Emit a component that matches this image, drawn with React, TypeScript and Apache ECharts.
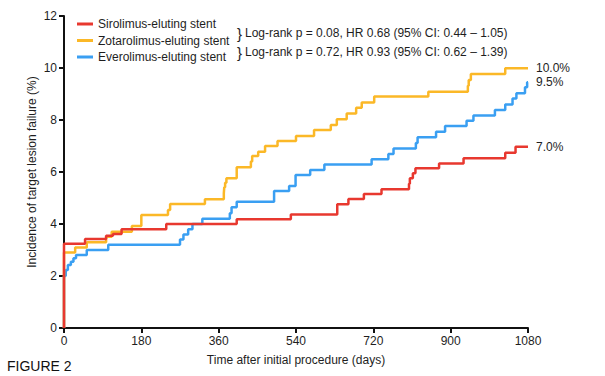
import React, { useEffect, useRef } from "react";
import * as echarts from "echarts";

const seriesNames = ["Sirolimus-eluting stent", "Zotarolimus-eluting stent", "Everolimus-eluting stent"];
const seriesColors = ["#e8382f", "#fbb827", "#3a9ff2"];
const endLabels = ["7.0%", "10.0%", "9.5%"];

const siroDays = [0, 0, 49, 98, 114, 134, 238, 402, 528, 636, 662, 698, 739, 803, 805, 812, 818, 873, 930, 1027, 1051, 1080];
const siroVals = [0, 3.24, 3.42, 3.55, 3.62, 3.8, 4.0, 4.18, 4.37, 4.76, 4.96, 5.15, 5.34, 5.55, 5.76, 5.95, 6.14, 6.33, 6.53, 6.74, 6.97, 6.97];

const zotaDays = [0, 0, 26, 53, 98, 111, 158, 180, 242, 247, 328, 372, 373, 375, 378, 402, 435, 438, 452, 468, 497, 540, 582, 621, 635, 658, 680, 693, 722, 848, 940, 942, 947, 1027, 1080];
const zotaVals = [0, 2.9, 3.1, 3.3, 3.51, 3.7, 3.92, 4.35, 4.54, 4.77, 4.95, 5.18, 5.41, 5.59, 5.76, 6.18, 6.4, 6.62, 6.78, 7.0, 7.19, 7.38, 7.62, 7.81, 8.03, 8.25, 8.47, 8.67, 8.9, 9.09, 9.32, 9.54, 9.77, 9.99, 9.99];

const everDays = [0, 0, 4, 9, 16, 22, 28, 53, 103, 270, 278, 289, 299, 322, 386, 390, 402, 489, 524, 539, 573, 606, 716, 755, 767, 819, 823, 866, 887, 937, 953, 1003, 1027, 1044, 1053, 1073, 1078, 1080];
const everVals = [0, 2.0, 2.23, 2.42, 2.55, 2.68, 2.81, 3.0, 3.2, 3.4, 3.6, 3.8, 4.0, 4.2, 4.41, 4.64, 4.86, 5.27, 5.46, 5.88, 6.08, 6.29, 6.49, 6.69, 6.9, 7.12, 7.34, 7.55, 7.77, 7.97, 8.17, 8.38, 8.6, 8.83, 9.03, 9.26, 9.45, 9.45];

const xTicks = [0, 180, 360, 540, 720, 900, 1080];
const yTicks = [0, 2, 4, 6, 8, 10, 12];

const logRankTexts = [
  "Log-rank p = 0.08, HR 0.68 (95% CI: 0.44 – 1.05)",
  "Log-rank p = 0.72, HR 0.93 (95% CI: 0.62 – 1.39)",
];

const xTitle = "Time after initial procedure (days)";
const yTitle = "Incidence of target lesion failure (%)";
const figureLabel = "FIGURE 2";

const FONT = "'Liberation Sans', Arial, Helvetica, sans-serif";
const TEXT = "#1e1e1e";

function pairs(days: number[], vals: number[]) {
  return days.map((d, i) => [d, vals[i]]);
}

export default function App() {
  const ref = useRef<HTMLDivElement>(null);

  useEffect(() => {
    if (!ref.current) return;
    const chart = echarts.init(ref.current, null, { renderer: "svg" });
    const allData = [pairs(siroDays, siroVals), pairs(zotaDays, zotaVals), pairs(everDays, everVals)];
    const series = allData.map((data, i) => ({
      name: seriesNames[i],
      type: "line",
      step: "end",
      data,
      symbol: "none",
      color: seriesColors[i],
      lineStyle: { width: 2.5, color: seriesColors[i] },
      endLabel: {
        show: true,
        formatter: endLabels[i],
        distance: 8,
        color: TEXT,
        fontFamily: FONT,
        fontSize: 12,
      },
      z: 3 - i,
    }));

    chart.setOption({
      animation: false,
      textStyle: { fontFamily: FONT },
      grid: { left: 64, right: 77, top: 16, bottom: 48, containLabel: false },
      legend: {
        orient: "vertical",
        left: 77,
        top: 18,
        padding: 0,
        icon: "rect",
        itemWidth: 16,
        itemHeight: 3,
        itemGap: 4.5,
        data: seriesNames,
        textStyle: { color: TEXT, fontSize: 12, fontFamily: FONT },
        selectedMode: false,
      },
      xAxis: {
        type: "value",
        min: xTicks[0],
        max: xTicks[xTicks.length - 1],
        interval: 180,
        splitLine: { show: false },
        axisLine: { lineStyle: { color: "#111", width: 2 } },
        axisTick: { length: 5, lineStyle: { color: "#111", width: 2 } },
        axisLabel: { color: TEXT, fontSize: 12, fontFamily: FONT, margin: 7, formatter: (v: number) => String(v) },
        name: xTitle,
        nameLocation: "middle",
        nameGap: 26,
        nameMoveOverlap: false,
        nameTextStyle: { color: TEXT, fontSize: 12, fontFamily: FONT },
      },
      yAxis: {
        type: "value",
        min: yTicks[0],
        max: yTicks[yTicks.length - 1],
        interval: 2,
        splitLine: { show: false },
        axisLine: { show: true, lineStyle: { color: "#111", width: 2 } },
        axisTick: { show: true, length: 5, lineStyle: { color: "#111", width: 2 } },
        axisLabel: { color: TEXT, fontSize: 12, fontFamily: FONT, margin: 7, formatter: (v: number) => String(v) },
        name: yTitle,
        nameLocation: "middle",
        nameGap: 26,
        nameMoveOverlap: false,
        nameTextStyle: { color: TEXT, fontSize: 12, fontFamily: FONT },
      },
      graphic: [
        { type: "text", left: 237, top: 26, style: { text: "}", fontSize: 15, fontFamily: FONT, fill: TEXT } },
        { type: "text", left: 237, top: 45, style: { text: "}", fontSize: 15, fontFamily: FONT, fill: TEXT } },
        { type: "text", left: 245, top: 27, style: { text: logRankTexts[0], fontSize: 12, fontFamily: FONT, fill: TEXT } },
        { type: "text", left: 245, top: 46, style: { text: logRankTexts[1], fontSize: 12, fontFamily: FONT, fill: TEXT } },
        { type: "text", left: 7, top: 359, style: { text: figureLabel, fontSize: 14, fontFamily: FONT, fill: "#111" } },
      ],
      series,
    });
    return () => chart.dispose();
  }, []);

  return (
    <div
      ref={ref}
      style={{ position: "fixed", left: 0, top: 0, width: 605, height: 376, background: "#fff" }}
    />
  );
}
